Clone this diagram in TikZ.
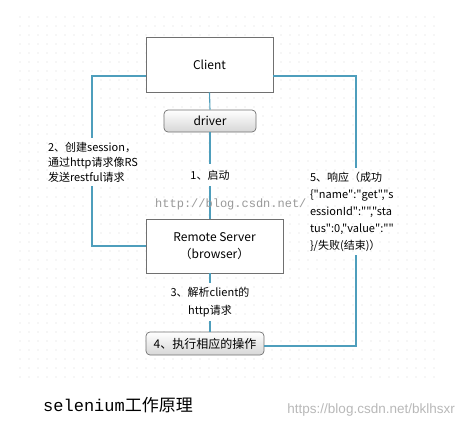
\documentclass[tikz,border=0pt]{standalone}
\usepackage{fontspec}
\newfontfamily\cjk{Noto Sans CJK SC}
\newfontfamily\capmono{Liberation Mono}
\newfontfamily\capsans{Liberation Sans}
\usepackage{tikz}
\usetikzlibrary{calc, positioning}
\usepackage{xcolor}
\definecolor{wire}{RGB}{78,158,188}
\definecolor{edge}{RGB}{112,112,112}
\tikzset{
  box/.style   ={draw=edge, fill=white, line width=0.8pt, inner sep=0pt, font=\cjk\fontsize{12}{17}\selectfont, align=center},
  btn/.style   ={draw=edge, rounded corners=4pt, top color=white, bottom color=black!16, line width=0.7pt, inner sep=0pt, font=\cjk\fontsize{12}{15}\selectfont},
  lbl/.style   ={inner sep=4pt, font=\cjk\fontsize{11}{15}\selectfont},
  wire/.style  ={draw=wire, line width=1.1pt},
  dotc/.style  ={fill=black!45},
  wmark/.style ={text=black!40, inner sep=0pt},
}

\begin{document}
\begin{tikzpicture}[x=1pt, y=-1pt]
  \useasboundingbox (0,0) rectangle (463,434);
  % dotted canvas
  \foreach \i in {0,...,46}
    \foreach \j in {0,...,40}
      \fill[dotc] (20+9*\i, 17+9*\j) circle (0.45pt);
  % blocks
  \node[box, minimum width=127pt, minimum height=55pt] (client) at (209.5,64.5) {Client};
  \node[btn, minimum width=92pt, minimum height=22pt]  (drv)    at (210,121)    {driver};
  \node[box, minimum width=137pt, minimum height=54pt] (server) at (214.5,246)  {Remote Server\\（browser）};
  \node[btn, minimum width=118pt, minimum height=23pt] (exec)   at (205,343.5)  {4、执行相应的操作};
  % labels on the wires
  \node[lbl, text width=88pt, align=left] (lbl2) at (92,162)
    {2、创建session，\\通过http请求像RS\\发送restful请求};
  \node[lbl, inner sep=6pt] (lbl1) at (210,175) {1、启动};
  \node[lbl, text width=92pt, align=left, font=\cjk\fontsize{11}{17}\selectfont] (lbl5) at (356,211.5)
    {5、响应（成功\\\{"name":"get","s\\essionId":"","sta\\tus":0,"value":""\\\}/失败(结束)）};
  \node[lbl, align=center, font=\cjk\fontsize{11}{18}\selectfont] (lbl3) at (210,302)
    {3、解析client的\\http请求};
  % wires
  \draw[wire] (client.south) -- (drv.north);
  \draw[wire] (drv.south) -- (lbl1.north);
  \draw[wire] (lbl1.south) -- (lbl1.south |- server.north);
  \draw[wire] ([yshift=-11.5pt]client.west) -| (lbl2.north);
  \draw[wire] (lbl2.south) |- (server.west);
  \draw[wire] ([yshift=-11.5pt]client.east) -| (lbl5.north);
  \draw[wire] (lbl5.south) |- ([yshift=-2.5pt]exec.east);
  \draw[wire] (lbl3.north |- server.south) -- (lbl3.north);
  \draw[wire] (lbl3.south) -- (lbl3.south |- exec.north);
  % caption and watermarks
  \node[wmark, anchor=west, font=\capmono\fontsize{12}{12}\selectfont] (wm1) at (155,204) {http://blog.csdn.net/};
  \node[anchor=west, inner sep=0pt, font=\cjk\fontsize{17}{17}\selectfont] (capt) at (43,405) {{\capmono selenium}工作原理};
  \node[wmark, text=black!28, anchor=east, font=\capsans\fontsize{13.5}{13.5}\selectfont] (wm2) at (455,410) {https://blog.csdn.net/bklhsxr};
\end{tikzpicture}
\end{document}
